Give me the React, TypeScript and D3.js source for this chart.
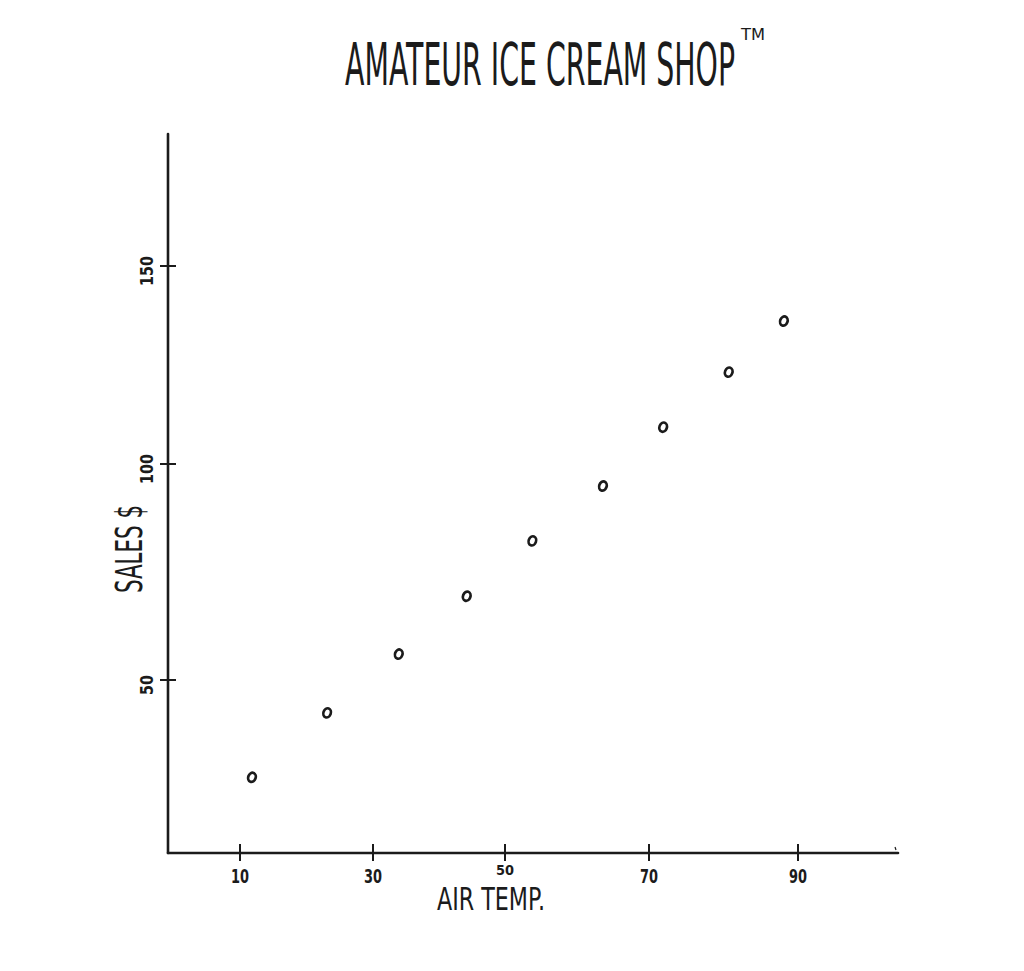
import React, { useLayoutEffect, useRef, useState } from "react";
import * as d3 from "d3";

// ---- data ----
const TITLE = "AMATEUR ICE CREAM SHOP";
const TRADEMARK = "TM";
const X_LABEL = "AIR TEMP.";
const Y_LABEL = "SALES $";
const xTicks = [10, 30, 50, 70, 90];
const yTicks = [50, 100, 150];
const airTemp = [11.8, 23.1, 33.9, 44.2, 53.8, 63.6, 71.9, 80.7, 88.1];
const sales = [27.5, 42.4, 56.0, 69.4, 82.2, 94.9, 109.3, 123.2, 136.1];

// ---- layout ----
const W = 1024;
const H = 971;
const INK = "#1b1b1b";
const FONT = "'DejaVu Sans', 'Liberation Sans', sans-serif";

// The hand-drawn axes are unevenly spaced, so use piecewise-linear scales
const xScale = d3
  .scaleLinear()
  .domain([0, ...xTicks, 104])
  .range([168, 240, 373, 505, 649, 798, 898]);
const yScale = d3
  .scaleLinear()
  .domain([10, ...yTicks, 183])
  .range([853, 680, 464, 266, 134]);

// Text squeezed horizontally to a target width (hand-lettered look)
function FitText(props: {
  x: number;
  y: number;
  width: number;
  size: number;
  rotate?: number;
  anchor?: "start" | "middle";
  weight?: string | number;
  children: string;
}) {
  const { x, y, width, size, rotate = 0, anchor = "start", weight = "normal", children } = props;
  const ref = useRef<SVGTextElement>(null);
  const [sx, setSx] = useState(0.5);
  useLayoutEffect(() => {
    if (ref.current) {
      const natural = ref.current.getComputedTextLength();
      if (natural > 0) setSx(width / natural);
    }
  }, [width, children, size]);
  return (
    <g transform={`translate(${x}, ${y}) rotate(${rotate}) scale(${sx}, 1)`}>
      <text ref={ref} x={0} y={0} fontSize={size} fontWeight={weight} fill={INK} textAnchor={anchor}>
        {children}
      </text>
    </g>
  );
}

export default function App() {
  const [x0, x1] = [xScale(0), xScale(104)];
  const [yb, yt] = [yScale(10), yScale(183)];
  const points = airTemp.map((t, i) => ({ x: xScale(t), y: yScale(sales[i]) }));
  const xTitleLeft = 437;
  const xTitleRight = 545;
  return (
    <svg
      width={W}
      height={H}
      viewBox={`0 0 ${W} ${H}`}
      style={{ position: "absolute", left: 0, top: 0, display: "block", background: "#fff" }}
      fontFamily={FONT}
    >
      <rect x={0} y={0} width={W} height={H} fill="#fff" />
      {/* title */}
      <FitText x={345} y={85} width={390} size={59}>
        {TITLE}
      </FitText>
      <FitText x={741} y={40} width={24} size={16}>
        {TRADEMARK}
      </FitText>

      {/* axes */}
      <line x1={x0} y1={yt} x2={x0} y2={yb} stroke={INK} strokeWidth={2.6} strokeLinecap="round" />
      <line x1={x0} y1={yb} x2={x1} y2={yb} stroke={INK} strokeWidth={2.6} strokeLinecap="round" />
      <line x1={x1 - 3} y1={yb - 6} x2={x1 - 2} y2={yb - 3} stroke={INK} strokeWidth={1.2} />

      {/* x ticks */}
      {xTicks.map((t) => {
        const px = xScale(t);
        // the label sitting over the axis title is squeezed up against the axis
        const crowded = px > xTitleLeft && px < xTitleRight;
        return (
          <g key={`x${t}`}>
            <line x1={px} y1={yb - 9} x2={px} y2={yb + 8} stroke={INK} strokeWidth={2} />
            <FitText
              x={px}
              y={crowded ? 875 : 883}
              width={crowded ? 18 : 18}
              size={crowded ? 14 : 19}
              anchor="middle"
              weight="bold"
            >
              {String(t)}
            </FitText>
          </g>
        );
      })}

      {/* y ticks */}
      {yTicks.map((t) => {
        const label = String(t);
        return (
          <g key={`y${t}`}>
            <line x1={x0 - 8} y1={yScale(t)} x2={x0 + 8} y2={yScale(t)} stroke={INK} strokeWidth={2} />
            <FitText
              x={x0 - 15}
              y={yScale(t) + 5}
              rotate={-90}
              width={label.length * 10}
              size={18}
              anchor="middle"
              weight="bold"
            >
              {label}
            </FitText>
          </g>
        );
      })}

      {/* axis titles */}
      <FitText x={xTitleLeft} y={910} width={xTitleRight - xTitleLeft} size={32}>
        {X_LABEL}
      </FitText>
      <FitText x={142} y={549} rotate={-90} width={88} size={37} anchor="middle">
        {Y_LABEL}
      </FitText>

      {/* points */}
      {points.map((p, i) => (
        <ellipse
          key={i}
          cx={p.x}
          cy={p.y}
          rx={3.7}
          ry={4.7}
          transform={`rotate(20, ${p.x}, ${p.y})`}
          fill="none"
          stroke={INK}
          strokeWidth={2.7}
        />
      ))}
    </svg>
  );
}
